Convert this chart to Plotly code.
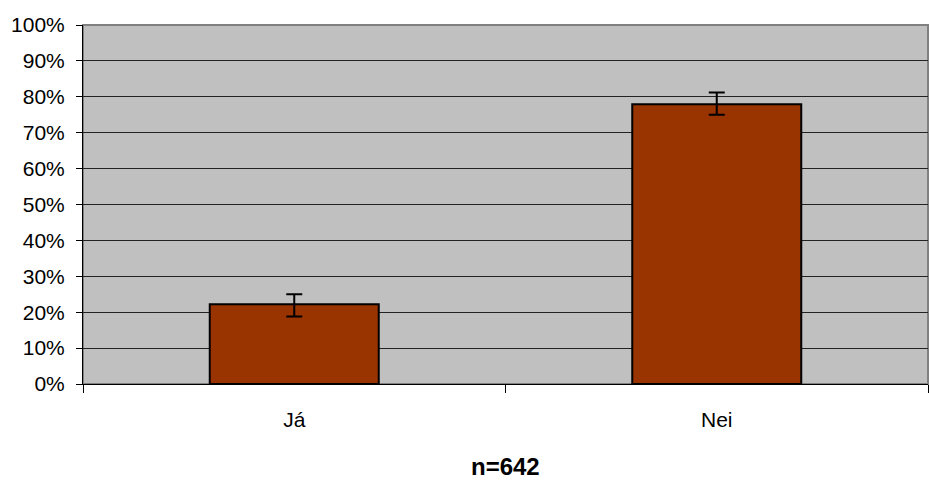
import plotly.graph_objects as go

categories = ["Já", "Nei"]
values = [22.2, 77.9]
err_plus = [2.8, 3.3]
err_minus = [3.4, 2.9]
y_ticks = [0, 10, 20, 30, 40, 50, 60, 70, 80, 90, 100]
y_tick_labels = [f"{v}%" for v in y_ticks]
note = "n=642"

FONT = "Liberation Sans, Arial, sans-serif"

fig = go.Figure()
fig.add_trace(go.Bar(
    x=categories,
    y=values,
    width=0.4,
    marker=dict(color="#993300", line=dict(color="#000000", width=2)),
    error_y=dict(type="data", symmetric=False, array=err_plus, arrayminus=err_minus,
                 color="#000000", thickness=2, width=8),
    showlegend=False,
))

fig.update_layout(
    width=929, height=480,
    margin=dict(l=83, r=1, t=25, b=96),
    paper_bgcolor="white",
    plot_bgcolor="#C0C0C0",
    font=dict(family=FONT, size=21, color="#000000"),
    xaxis=dict(
        showgrid=False, showline=True, linecolor="#000000", linewidth=1,
        ticks="outside", ticklen=8, tickcolor="#000000", tickwidth=1,
        tickson="boundaries", tickfont=dict(size=21), zeroline=False,
        ticklabelstandoff=17,
    ),
    yaxis=dict(
        range=[0, 100], tickvals=y_ticks, ticktext=y_tick_labels,
        showgrid=True, gridcolor="#222222", gridwidth=1,
        showline=True, linecolor="#000000", linewidth=1,
        ticks="outside", ticklen=6, tickcolor="#000000", tickwidth=1,
        tickfont=dict(size=21), zeroline=False, ticklabelstandoff=7,
    ),
    shapes=[dict(type="rect", xref="paper", yref="paper", x0=0, x1=1, y0=0, y1=1,
                 line=dict(color="#808080", width=2), layer="below")],
    annotations=[dict(text=f"<b>{note}</b>", xref="paper", yref="paper",
                      x=0.5, y=-0.23, xanchor="center", yanchor="middle",
                      showarrow=False, font=dict(size=24, family=FONT))],
)

fig.write_html("out.html", config={"displayModeBar": False},
               post_script="document.body.style.margin='0';document.body.style.overflow='hidden';")
